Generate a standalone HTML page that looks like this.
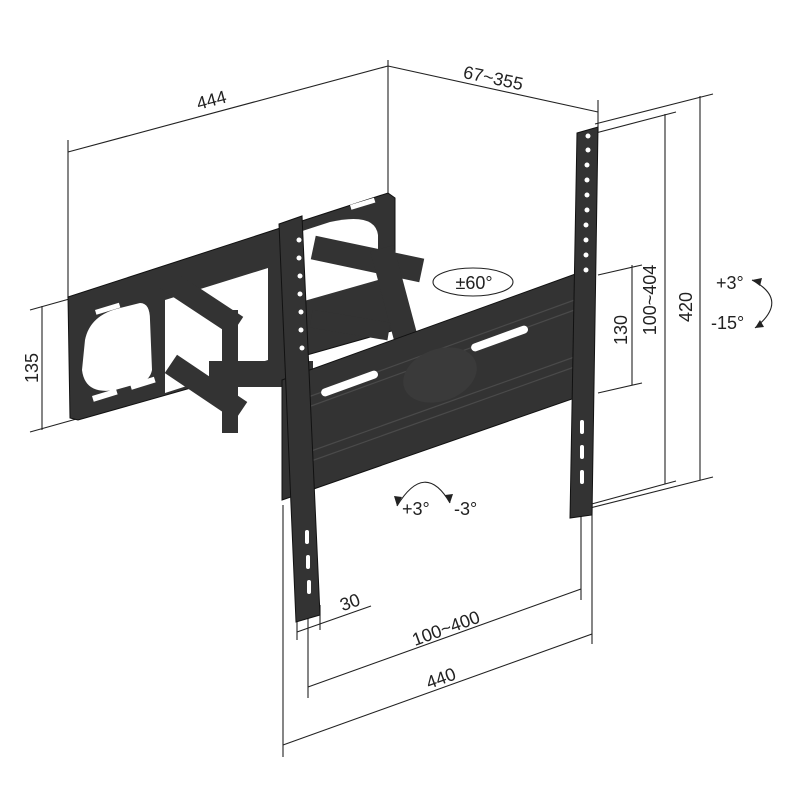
<!DOCTYPE html>
<html><head><meta charset="utf-8"><style>
html,body{margin:0;padding:0;background:#fff}
svg{display:block}
text{font-family:"Liberation Sans","DejaVu Sans",sans-serif;font-size:18px;fill:#222}
</style></head><body>
<svg width="800" height="800" viewBox="0 0 800 800">
<g stroke="#222" stroke-width="1.1" fill="none">
<line x1="68" y1="152" x2="388" y2="66"/>
<line x1="68" y1="140" x2="68" y2="298"/>
<line x1="388" y1="60" x2="388" y2="196"/>
<line x1="388" y1="66" x2="598" y2="112"/>
<line x1="598" y1="100" x2="598" y2="132"/>
<line x1="42" y1="306" x2="42" y2="430"/>
<line x1="30" y1="310" x2="80" y2="296"/>
<line x1="30" y1="432" x2="80" y2="418"/>
<line x1="632" y1="265" x2="632" y2="385"/>
<line x1="598" y1="275" x2="642" y2="265"/>
<line x1="598" y1="393" x2="642" y2="383"/>
<line x1="665" y1="114" x2="665" y2="484"/>
<line x1="588" y1="135" x2="676" y2="112"/>
<line x1="588" y1="505" x2="676" y2="481"/>
<line x1="700" y1="96" x2="700" y2="480"/>
<line x1="595" y1="124" x2="713" y2="94"/>
<line x1="582" y1="510" x2="713" y2="477"/>
<line x1="297" y1="632" x2="371" y2="606"/>
<line x1="297" y1="610" x2="297" y2="640"/>
<line x1="320" y1="605" x2="320" y2="630"/>
<line x1="308" y1="687" x2="581" y2="589"/>
<line x1="308" y1="605" x2="308" y2="698"/>
<line x1="581" y1="505" x2="581" y2="600"/>
<line x1="283" y1="745" x2="592" y2="634"/>
<line x1="283" y1="505" x2="283" y2="757"/>
<line x1="592" y1="505" x2="592" y2="644"/>
<ellipse cx="473" cy="282" rx="40" ry="14"/>
<path d="M752 280 Q790 300 755 328"/>
<path d="M397 506 Q425 460 450 503"/>
</g>
<g fill="#222">
<polygon points="752,280 762,278 760,286"/><polygon points="755,328 760,320 764,327"/>
<polygon points="397,506 394,496 402,497"/><polygon points="450,503 445,495 453,494"/>
</g>
<!-- wall plate -->
<polygon points="68,297 388,193 395,198 395,330 78,420 70,418" fill="#333" stroke="#111"/>
<g fill="#fff">
<path d="M85 340 Q90 315 120 308 L140 303 Q150 303 150 320 L152 370 Q150 380 140 383 L115 390 Q85 395 82 370 Z"/>
<path d="M290 235 L330 222 Q375 212 378 235 L378 280 L290 305 Z"/>
<polygon points="165,300 268,268 268,360 165,393"/>
<rect x="92" y="396" width="25" height="6" transform="rotate(-17 92 396)"/>
<rect x="130" y="384" width="25" height="6" transform="rotate(-17 130 384)"/>
<rect x="95" y="310" width="25" height="5" transform="rotate(-17 95 310)"/>
<rect x="350" y="205" width="25" height="5" transform="rotate(-17 350 205)"/>
</g>
<!-- arms -->
<g stroke="#333" stroke-linecap="square" fill="none">
<line x1="175" y1="285" x2="228" y2="320" stroke-width="22"/>
<line x1="180" y1="370" x2="232" y2="405" stroke-width="22"/>
<line x1="230" y1="318" x2="230" y2="425" stroke-width="16"/>
<line x1="222" y1="374" x2="300" y2="374" stroke-width="26"/>
<line x1="325" y1="250" x2="410" y2="268" stroke-width="24"/>
<line x1="385" y1="260" x2="405" y2="335" stroke-width="24"/>
<line x1="320" y1="320" x2="380" y2="330" stroke-width="18"/>
</g>
<!-- TV plate -->
<polygon points="282,380 592,268 592,392 282,500" fill="#333" stroke="#111"/>
<g stroke="#4a4a4a" stroke-width="1.2">
<line x1="300" y1="400" x2="580" y2="298"/><line x1="300" y1="410" x2="580" y2="308"/>
<line x1="300" y1="455" x2="580" y2="355"/><line x1="300" y1="465" x2="580" y2="365"/>
</g>
<g fill="#fff">
<rect x="320" y="390" width="60" height="8" rx="4" transform="rotate(-20 320 390)"/>
<rect x="470" y="345" width="60" height="8" rx="4" transform="rotate(-20 470 345)"/>
</g>
<ellipse cx="440" cy="375" rx="38" ry="26" fill="#3a3a3a" transform="rotate(-20 440 375)"/>
<!-- uprights -->
<polygon points="279,224 302,216 320,615 296,622" fill="#333" stroke="#111"/>
<polygon points="577,133 598,127 592,515 570,518" fill="#333" stroke="#111"/>
<g fill="#fff">
<circle cx="299" cy="240" r="2.5"/><circle cx="299" cy="258" r="2.5"/><circle cx="300" cy="276" r="2.5"/><circle cx="300" cy="294" r="2.5"/><circle cx="301" cy="312" r="2.5"/><circle cx="301" cy="330" r="2.5"/><circle cx="302" cy="348" r="2.5"/>
<rect x="305" y="530" width="4" height="14" rx="2"/><rect x="306" y="555" width="4" height="14" rx="2"/><rect x="307" y="580" width="4" height="14" rx="2"/>
<circle cx="588" cy="136" r="2.5"/><circle cx="588" cy="150" r="2.5"/><circle cx="587" cy="165" r="2.5"/><circle cx="587" cy="180" r="2.5"/><circle cx="587" cy="195" r="2.5"/><circle cx="587" cy="210" r="2.5"/><circle cx="586" cy="225" r="2.5"/><circle cx="586" cy="240" r="2.5"/><circle cx="586" cy="255" r="2.5"/><circle cx="586" cy="270" r="2.5"/>
<rect x="580" y="420" width="4" height="14" rx="2"/><rect x="580" y="445" width="4" height="14" rx="2"/><rect x="580" y="470" width="4" height="14" rx="2"/>
</g>
<text x="213" y="106" transform="rotate(-15 213 106)" text-anchor="middle">444</text>
<text x="492" y="84" transform="rotate(12 492 84)" text-anchor="middle">67~355</text>
<text x="38" y="368" transform="rotate(-90 38 368)" text-anchor="middle">135</text>
<text x="627" y="330" transform="rotate(-90 627 330)" text-anchor="middle">130</text>
<text x="656" y="300" transform="rotate(-90 656 300)" text-anchor="middle">100~404</text>
<text x="692" y="307" transform="rotate(-90 692 307)" text-anchor="middle">420</text>
<text x="716" y="289">+3°</text>
<text x="711" y="329">-15°</text>
<text x="474" y="289" text-anchor="middle">±60°</text>
<text x="402" y="515">+3°</text>
<text x="454" y="515">-3°</text>
<text x="352" y="608" transform="rotate(-20 352 608)" text-anchor="middle">30</text>
<text x="448" y="634" transform="rotate(-20 448 634)" text-anchor="middle">100~400</text>
<text x="443" y="684" transform="rotate(-20 443 684)" text-anchor="middle">440</text>
</svg>
</body></html>
